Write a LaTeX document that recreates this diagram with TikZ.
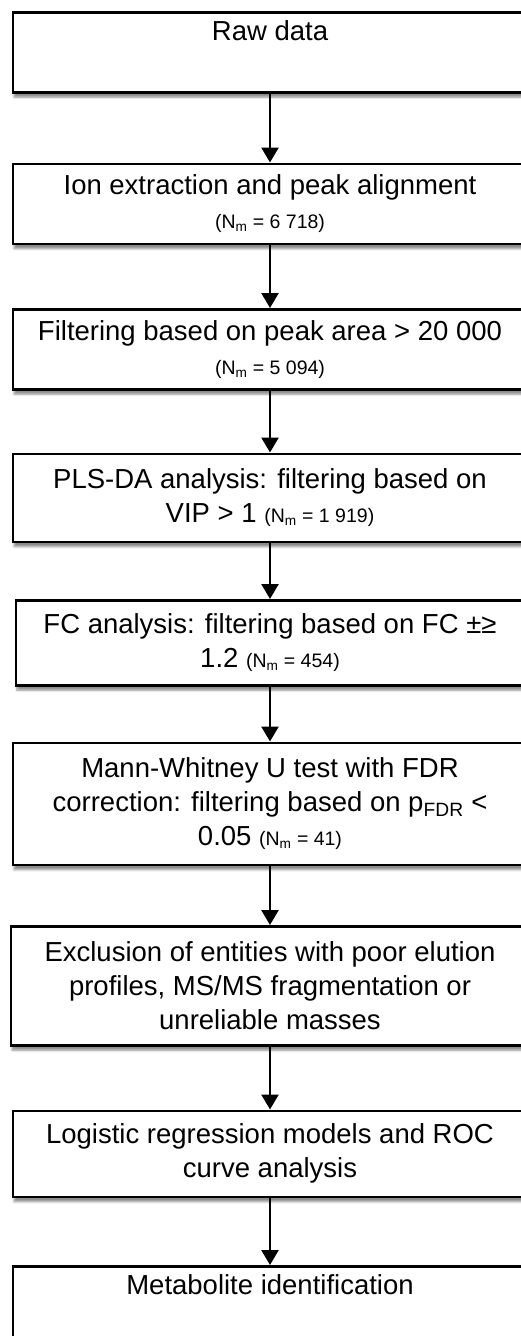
\documentclass[tikz,border=0pt]{standalone}
\usepackage{fontspec}
\setmainfont{Liberation Sans}
\usetikzlibrary{arrows.meta,positioning,shadows.blur}
\tikzset{
  stepbox/.style={
    rectangle, draw=black, line width=2.5pt, fill=white,
    minimum width=514pt, minimum height=#1, align=center,
    font=\fontsize{27.5}{34}\selectfont,
    blur shadow={shadow xshift=1pt, shadow yshift=-5pt, shadow blur steps=6, shadow opacity=45}
  },
  stepbox/.default=80pt,
  steparrow/.style={-{Triangle[length=15pt,width=17pt]}, line width=2.5pt}
}
\newcommand{\nmcount}[1]{{\fontsize{19.5}{22}\selectfont(N\textsubscript{m} = #1)}}

\begin{document}
\begin{tikzpicture}
\useasboundingbox (0,0) rectangle (520pt,-1336pt);
\node[stepbox, anchor=north] (raw) at (270pt,-11pt) {Raw data\\ \strut};
\node[stepbox, below=69pt of raw] (ion) {Ion extraction and peak alignment\\ \nmcount{6 718}};
\node[stepbox, below=63pt of ion] (area) {Filtering based on peak area > 20 000\\ \nmcount{5 094}};
\node[stepbox=88pt, below=62pt of area] (plsda) {PLS-DA analysis: filtering based on\\ VIP > 1 \nmcount{1 919}};
\node[stepbox=85pt, minimum width=508pt, below=56pt of plsda] (fc) {FC analysis: filtering based on FC ±≥\\ 1.2 \nmcount{454}};
\node[stepbox=122pt, below=55pt of fc] (mwu) {Mann-Whitney U test with FDR\\ correction: filtering based on p\textsubscript{FDR} <\\ 0.05 \nmcount{41}};
\node[stepbox=119pt, minimum width=518pt, below=59pt of mwu] (excl) {Exclusion of entities with poor elution\\ profiles, MS/MS fragmentation or\\ unreliable masses};
\node[stepbox=86pt, below=63pt of excl] (roc) {Logistic regression models and ROC\\ curve analysis};
\node[stepbox, below=67pt of roc] (ident) {Metabolite identification\\ \strut};

\draw[steparrow] (raw) -- (ion);
\draw[steparrow] (ion) -- (area);
\draw[steparrow] (area) -- (plsda);
\draw[steparrow] (plsda) -- (fc);
\draw[steparrow] (fc) -- (mwu);
\draw[steparrow] (mwu) -- (excl);
\draw[steparrow] (excl) -- (roc);
\draw[steparrow] (roc) -- (ident);
\end{tikzpicture}
\end{document}
